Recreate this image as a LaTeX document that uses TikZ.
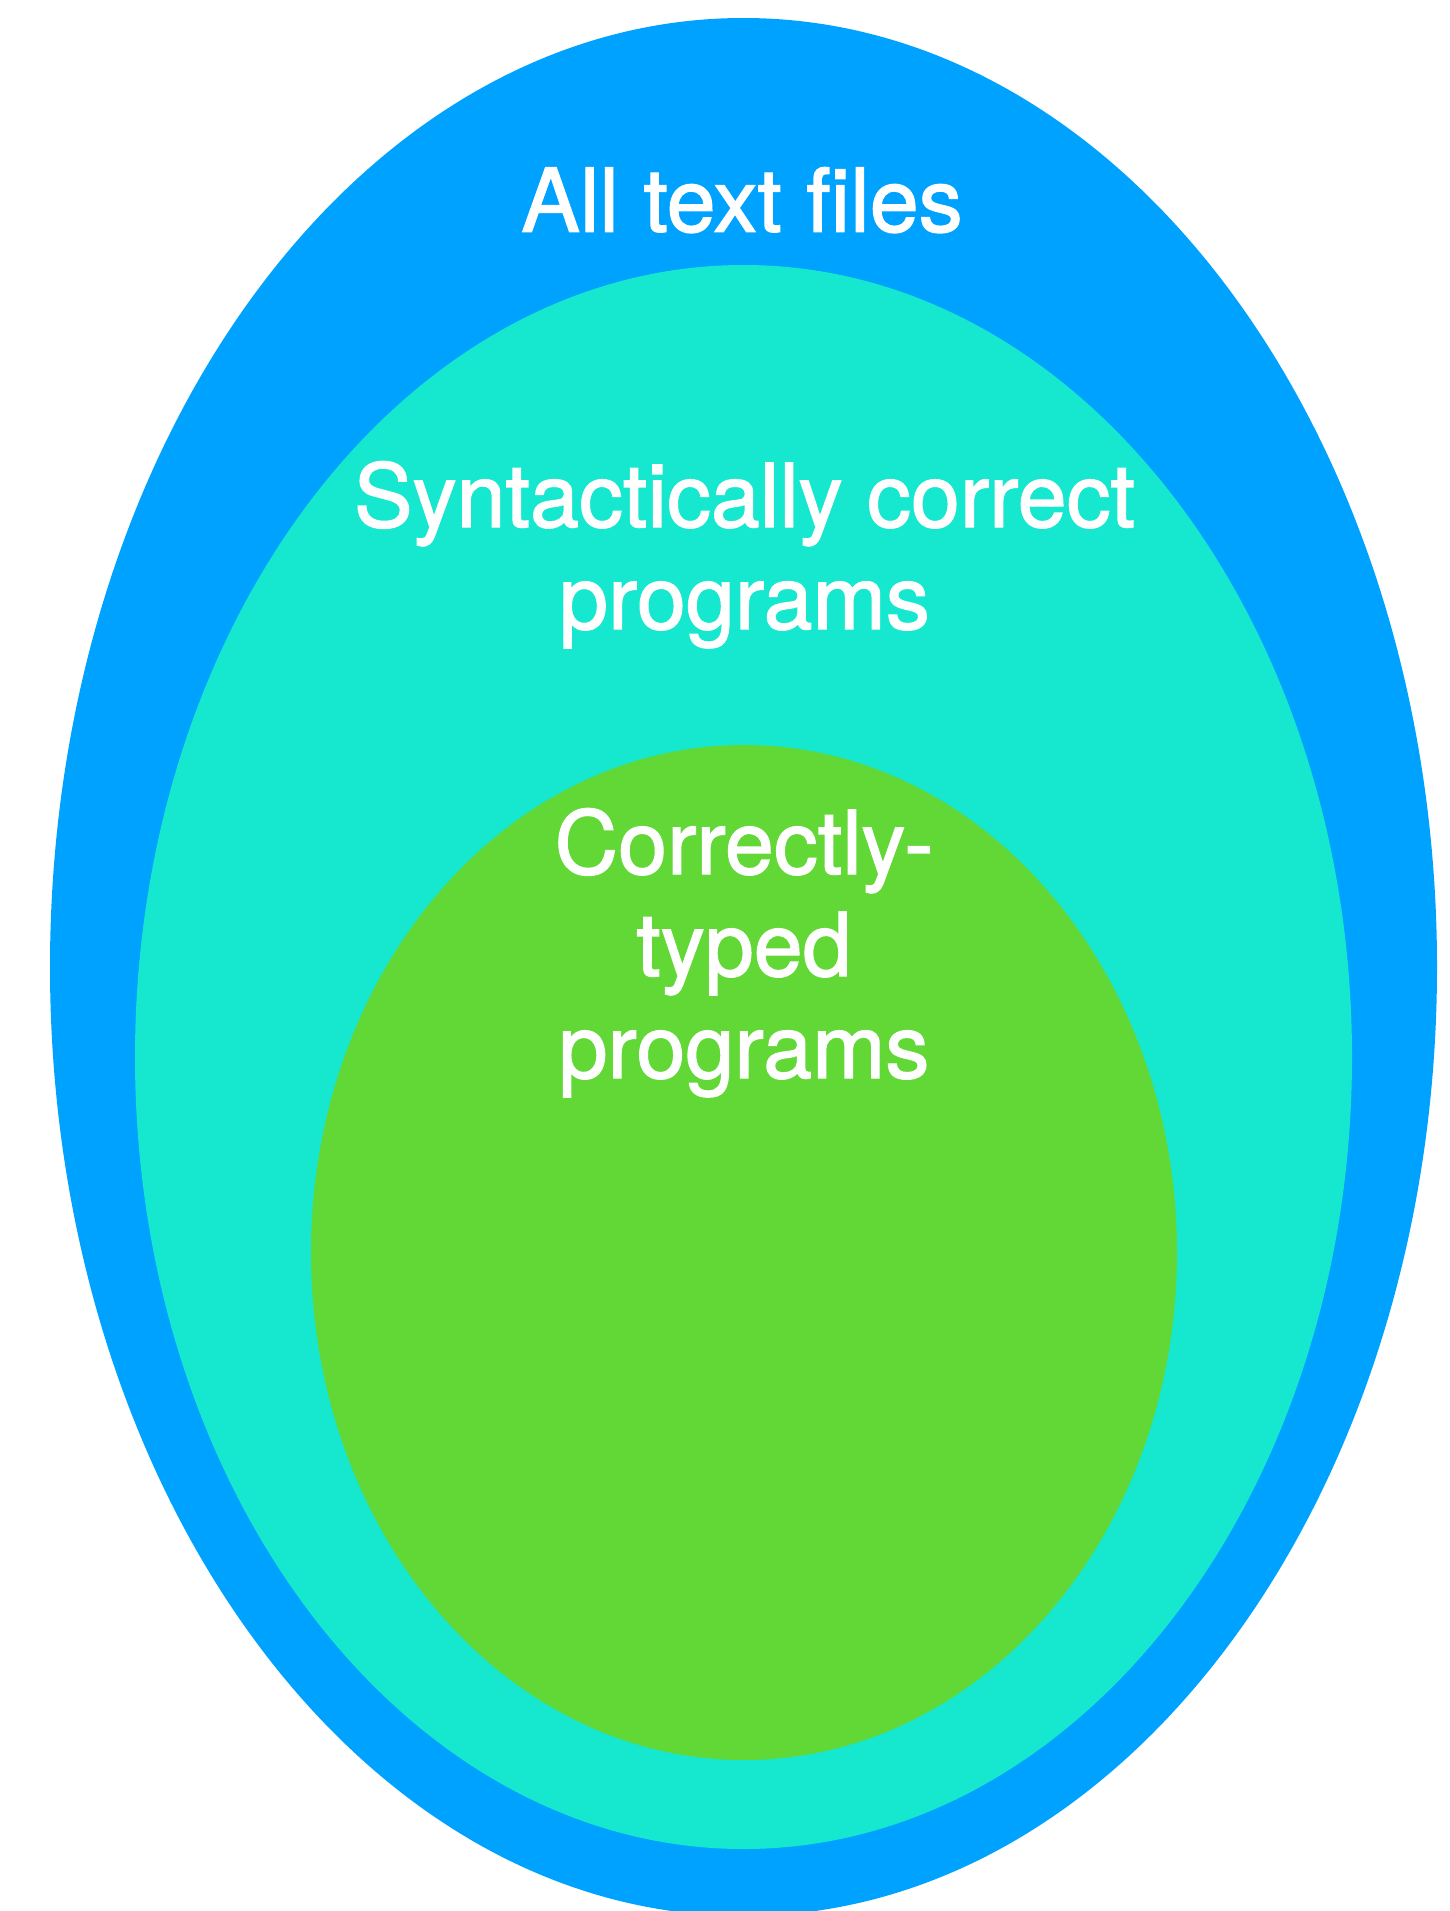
\documentclass[tikz,border=0pt]{standalone}
\usepackage{fontspec}
\setmainfont{TeX Gyre Heros}
\newfontface\lblfont{TeX Gyre Heros}[FakeBold=1.5]
\definecolor{outerblue}{HTML}{00A2FF}
\definecolor{midteal}{HTML}{16E7CF}
\definecolor{innergreen}{HTML}{61D836}
\begin{document}
\begin{tikzpicture}[x=1pt,y=-1pt,
  label/.style={text=white,inner sep=0pt,align=center,font=\lblfont\fontsize{88}{102}\selectfont}]
\useasboundingbox (0,0) rectangle (1450,1911);
\clip (0,0) rectangle (1450,1911);
\fill[outerblue] (743.5,967) ellipse [x radius=693.5, y radius=949];
\fill[midteal] (743.5,1057) ellipse [x radius=608.5, y radius=792];
\fill[innergreen] (744,1252.5) ellipse [x radius=433, y radius=507.5];
\node[label,anchor=base] (all) at (742,231.7) {All text files};
\node[label,anchor=base] (syn) at (744.5,629) {Syntactically correct\\programs};
\node[label,anchor=base] (typed) at (744,1078) {Correctly-\\typed\\programs};
\end{tikzpicture}
\end{document}
